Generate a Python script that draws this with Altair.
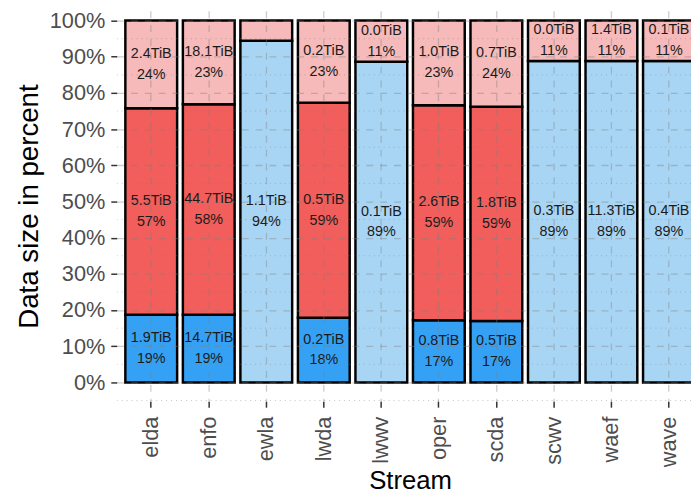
import altair as alt
import pandas as pd

streams = ["elda", "enfo", "ewla", "lwda", "lwwv", "oper", "scda", "scwv", "waef", "wave"]
levels = ["pl", "wave", "ml", "sfc"]  # stacking order, bottom -> top
level_colors = ["#35A1F4", "#A9D5F4", "#F15E5B", "#F5BAB9"]

pct_pl = [18.7, 18.7, None, 17.9, None, 17.2, 17.0, None, None, None]
tib_pl = [1.9, 14.7, None, 0.2, None, 0.8, 0.5, None, None, None]
pct_wave = [None, None, 94.4, None, 88.6, None, None, 88.8, 88.8, 88.8]
tib_wave = [None, None, 1.1, None, 0.1, None, None, 0.3, 11.3, 0.4]
pct_ml = [57.1, 58.2, None, 59.4, None, 59.4, 59.2, None, None, None]
tib_ml = [5.5, 44.7, None, 0.5, None, 2.6, 1.8, None, None, None]
pct_sfc = [24.2, 23.1, 5.6, 22.7, 11.4, 23.4, 23.8, 11.2, 11.2, 11.2]
tib_sfc = [2.4, 18.1, 0.1, 0.2, 0.0, 1.0, 0.7, 0.0, 1.4, 0.1]

y_major = [0, 0.1, 0.2, 0.3, 0.4, 0.5, 0.6, 0.7, 0.8, 0.9, 1.0]
y_minor = [-0.05, 0.05, 0.15, 0.25, 0.35, 0.45, 0.55, 0.65, 0.75, 0.85, 0.95]

rows = []
for lvl_i, (lvl, pcts, tibs) in enumerate(
    [("pl", pct_pl, tib_pl), ("wave", pct_wave, tib_wave),
     ("ml", pct_ml, tib_ml), ("sfc", pct_sfc, tib_sfc)]
):
    for s, p, t in zip(streams, pcts, tibs):
        if p is None:
            continue
        rows.append({"stream": s, "level": lvl, "order": lvl_i,
                     "frac": p / 100.0, "tib": t})
df = pd.DataFrame(rows)

x_scale = alt.Scale(domain=streams, range=[0, 593.6], paddingInner=0.1, paddingOuter=0.15)
y_scale = alt.Scale(domain=[-0.052, 1.027], nice=False, zero=False)
y_title = "Data size in percent"
y_axis = alt.Axis(values=y_major, format=".0%", grid=True, gridDash=[7, 7],
                  labelPadding=6, titlePadding=6, zindex=1, titleFontSize=28,
                  labelOverlap=False, labelFlush=False)
x_axis = alt.Axis(labelAngle=270, labelAlign="right", labelBaseline="middle",
                  labelPadding=9, titlePadding=1, bandPosition=0.5, titleFontSize=26,
                  grid=True, gridDash=[7, 7], zindex=1, labelOverlap=False)

base = alt.Chart(df).transform_stack(
    stack="frac", groupby=["stream"], as_=["y0", "y1"],
    sort=[alt.SortField("order", order="ascending")]
).transform_calculate(
    ymid="(datum.y0 + datum.y1) / 2",
    label="format(datum.tib, '.1f') + 'TiB\\n' + format(datum.frac * 100, '.0f') + '%'"
)

bars = base.mark_bar(stroke="black", strokeWidth=2.5, clip=True).encode(
    x=alt.X("stream:N", sort=streams, scale=x_scale, title="Stream", axis=x_axis),
    y=alt.Y("y0:Q", scale=y_scale, title=y_title, axis=y_axis),
    y2="y1:Q",
    fill=alt.Fill("level:N", scale=alt.Scale(domain=levels, range=level_colors), legend=None),
)

minor = alt.Chart(pd.DataFrame({"v": y_minor})).mark_rule(
    strokeDash=[1, 4], color="#7f7f7f", opacity=0.45, strokeWidth=1, clip=True
).encode(y=alt.Y("v:Q", scale=y_scale, title=y_title, axis=y_axis))

texts = base.transform_filter("datum.frac >= 0.1").mark_text(
    fontSize=14.5, font="Liberation Sans", color="#1a1a1a", lineBreak="\n",
    lineHeight=21, baseline="middle", align="center", dy=-10.5, clip=True
).encode(
    x=alt.X("stream:N", sort=streams, scale=x_scale, title="Stream", axis=x_axis),
    y=alt.Y("ymid:Q", scale=y_scale, title=y_title, axis=y_axis),
    text="label:N",
)

chart = alt.layer(bars, minor, texts).properties(
    width=581, height=395,
    autosize=alt.AutoSizeParams(type="none"),
    padding={"left": 110, "top": 0, "right": 0, "bottom": 90},
).configure_view(stroke=None).configure_axis(
    domain=False,
    labelFont="Liberation Sans", labelFontSize=22, labelColor="#4D4D4D",
    titleFont="Liberation Sans", titleColor="black", titleFontWeight="normal",
    tickColor="#333333", tickSize=6, tickWidth=1.5,
    gridColor="#7f7f7f", gridOpacity=0.4, gridWidth=1.3,
)

chart.save("out.html", embed_options={"renderer": "svg", "actions": False})
